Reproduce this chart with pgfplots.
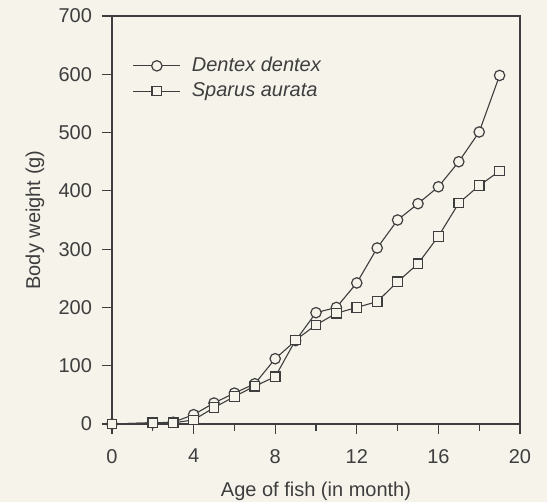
\documentclass[border=0pt]{standalone}
\usepackage{fontspec}
\setmainfont{Liberation Sans}
\usepackage{pgfplots}
\pgfplotsset{compat=1.18}
\definecolor{bg}{RGB}{246,243,235}
\definecolor{ink}{RGB}{62,62,62}
\begin{document}
\begin{tikzpicture}
\fill[bg] (-56pt,-39pt) rectangle (217.5pt,212pt);
\useasboundingbox (-56pt,-39pt) rectangle (217.5pt,212pt);
\begin{axis}[
  at={(0,0)}, anchor=south west,
  scale only axis, width=204pt, height=204pt,
  xmin=0, xmax=20, ymin=0, ymax=700,
  xtick={0,4,...,20}, minor xtick={2,6,...,18},
  ytick={0,100,...,700},
  tick pos=left, tick align=outside,
  major tick length=5pt, minor tick length=3.5pt,
  axis line style={ink, line width=0.65pt},
  every tick/.style={ink, line width=0.6pt},
  every tick label/.append style={text=ink, font=\fontsize{10}{12}\selectfont},
  xticklabel style={yshift=-4pt},
  yticklabel style={xshift=-1.5pt},
  /pgf/number format/assume math mode=true,
  xlabel={Age of fish (in month)}, ylabel={Body weight (g)},
  label style={text=ink, font=\fontsize{10}{12}\selectfont},
  xlabel style={at={(axis description cs:0.5,-0.166)}, anchor=center},
  ylabel style={at={(axis description cs:-0.189,0.5)}, anchor=center},
  clip=false,
  legend style={draw=none, fill=none, at={(0.05,0.91)}, anchor=north west,
    font=\fontsize{10}{12}\selectfont\itshape, text=ink, row sep=0pt,
    inner sep=0pt, nodes={inner sep=2pt}, cells={anchor=west}},
  legend image code/.code={\draw[mark repeat=2, mark phase=2] plot coordinates {(0pt,0pt) (11.75pt,0pt) (23.5pt,0pt)};},
  every axis plot/.append style={ink, line width=0.55pt},
]
\addplot[mark=*, mark size=2.6pt, mark options={fill=bg, solid, line width=0.6pt}] coordinates {
(0,0) (2,2) (3,3) (4,16) (5,36) (6,53) (7,69) (8,112) (9,143) (10,191)
(11,200) (12,242) (13,302) (14,350) (15,378) (16,407) (17,450) (18,501) (19,598)};
\addlegendentry{\hspace{3.5pt}Dentex dentex}
\addplot[mark=square*, mark size=2.4pt, mark options={fill=bg, solid, line width=0.6pt}] coordinates {
(0,0) (2,2) (3,2) (4,7) (5,28) (6,47) (7,65) (8,81) (9,144) (10,170)
(11,190) (12,200) (13,210) (14,244) (15,275) (16,322) (17,379) (18,409) (19,434)};
\addlegendentry{\hspace{3.5pt}Sparus aurata}
\end{axis}
\end{tikzpicture}
\end{document}
